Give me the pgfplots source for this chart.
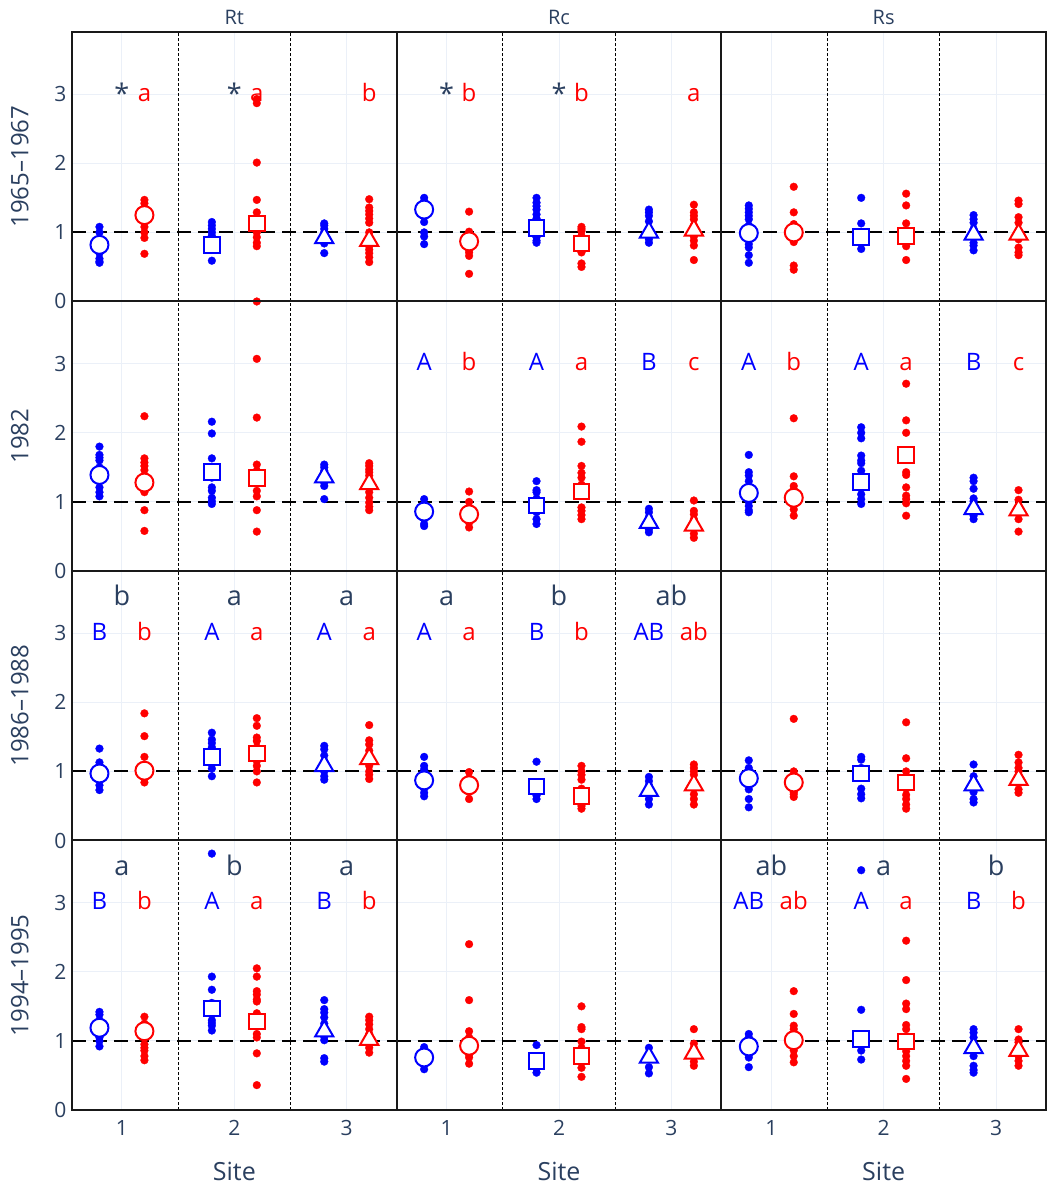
\documentclass[border=0pt]{standalone}
\usepackage{fontspec}
\setmainfont{Open Sans}
\usepackage{pgfplots}
\pgfplotsset{compat=1.18}
\definecolor{pblue}{RGB}{0,0,255}
\definecolor{pred}{RGB}{255,0,0}
\definecolor{tickc}{RGB}{42,63,95}
\definecolor{gridc}{RGB}{235,240,248}
\pgfplotsset{
 panel/.style={anchor=south west, scale only axis, width=324.67pt, height=269.5pt,
   xmin=0.5556, xmax=3.4444, ymin=0, ymax=3.9,
   xtick={1,2,3}, ytick={0,1,2,3},
   xticklabels={{},{},{}}, yticklabels={{},{},{},{}},
   major tick length=0pt,
   xmajorgrids=true, ymajorgrids=true,
   grid style={draw=gridc, line width=0.9pt},
   axis line style={draw=black, line width=1.6pt},
   clip=false,
   tick label style={font=\fontsize{21}{25}\selectfont, text=tickc},
   xticklabel style={yshift=-7pt},
   yticklabel style={xshift=-2pt},
   /pgf/number format/assume math mode=true,
 },
 ylab/.style={yticklabels={0,1,2,3}},
 xlab/.style={xticklabels={1,2,3}},
 bd/.style={only marks, mark=*, mark size=3.9pt, color=pblue, mark options={line width=0.3pt}},
 rd/.style={only marks, mark=*, mark size=3.9pt, color=pred, mark options={line width=0.3pt}},
 bc/.style={only marks, mark=*, mark size=9pt, mark options={draw=pblue, fill=white, line width=2pt}},
 bs/.style={only marks, mark=square*, mark size=7.8pt, mark options={draw=pblue, fill=white, line width=2pt}},
 bt/.style={only marks, mark=triangle*, mark size=10.5pt, mark options={draw=pblue, fill=white, line width=2pt}},
 rc/.style={only marks, mark=*, mark size=9pt, mark options={draw=pred, fill=white, line width=2pt}},
 rs/.style={only marks, mark=square*, mark size=7.8pt, mark options={draw=pred, fill=white, line width=2pt}},
 rt/.style={only marks, mark=triangle*, mark size=10.5pt, mark options={draw=pred, fill=white, line width=2pt}},
}
\tikzset{
 lb/.style={anchor=base, text=pblue, font=\fontsize{24}{28}\selectfont, inner sep=0pt},
 lr/.style={anchor=base, text=pred, font=\fontsize{24}{28}\selectfont, inner sep=0pt},
 ld/.style={anchor=base, text=tickc, font=\fontsize{27}{32}\selectfont, inner sep=0pt},
 rowlab/.style={rotate=90, anchor=base, text=tickc, font=\fontsize{24}{28}\selectfont, inner sep=0pt},
 coltit/.style={anchor=base, text=tickc, font=\fontsize{20}{24}\selectfont, inner sep=0pt},
 sitelab/.style={anchor=base, text=tickc, font=\fontsize{25}{30}\selectfont, inner sep=0pt},
}
\newcommand{\sepl}{%
 \addplot[black, line width=0.8pt, dash pattern=on 3pt off 2pt] coordinates {(1.5,0) (1.5,3.9)};
 \addplot[black, line width=1.1pt, dash pattern=on 3pt off 2pt] coordinates {(2.5,0) (2.5,3.9)};
}
\newcommand{\onel}{%
 \addplot[black, line width=1.8pt, dash pattern=on 14pt off 7pt] coordinates {(0.5556,1) (3.4444,1)};
 \draw[black!90, line width=2pt] (rel axis cs:0,0) rectangle (rel axis cs:1,1);
}
\newcommand{\means}[6]{%
 \addplot[bc] coordinates {(0.8,#1)};
 \addplot[bs] coordinates {(1.8,#2)};
 \addplot[bt] coordinates {(2.8,#3)};
 \addplot[rc] coordinates {(1.2,#4)};
 \addplot[rs] coordinates {(2.2,#5)};
 \addplot[rt] coordinates {(3.2,#6)};
}
\begin{document}
\begin{tikzpicture}
\path[use as bounding box] (-72pt,-80pt) rectangle (983pt,1110pt);
% ================= ROW 1 =================
\begin{axis}[panel, ylab, at={(0pt,808.5pt)}]
\sepl
\addplot[bd] coordinates {(0.8,1.08)(0.8,1.0)(0.8,0.9)(0.8,0.82)(0.8,0.7)(0.8,0.62)(0.8,0.58)(0.8,0.56)
 (1.8,1.15)(1.8,1.1)(1.8,1.05)(1.8,1.0)(1.8,0.95)(1.8,0.85)(1.8,0.75)(1.8,0.59)
 (2.8,1.13)(2.8,1.1)(2.8,1.05)(2.8,1.0)(2.8,0.95)(2.8,0.88)(2.8,0.84)(2.8,0.7)};
\addplot[rd] coordinates {(1.2,1.47)(1.2,1.42)(1.2,1.35)(1.2,1.25)(1.2,1.15)(1.2,1.08)(1.2,1.0)(1.2,0.92)(1.2,0.69)
 (2.2,2.93)(2.2,2.87)(2.2,2.01)(2.2,1.47)(2.2,1.29)(2.2,1.2)(2.2,1.0)(2.2,0.93)(2.2,0.85)(2.2,0.8)(2.2,0.0)
 (3.2,1.48)(3.2,1.36)(3.2,1.31)(3.2,1.26)(3.2,1.2)(3.2,1.14)(3.2,1.0)(3.2,0.9)(3.2,0.8)(3.2,0.75)(3.2,0.7)(3.2,0.64)(3.2,0.57)};
\means{0.82}{0.82}{0.92}{1.25}{1.13}{0.88}
\onel
\node[ld] at (axis cs:1,2.87) {*};
\node[lr] at (axis cs:1.2,2.9) {a};
\node[ld] at (axis cs:2,2.87) {*};
\node[lr] at (axis cs:2.2,2.9) {a};
\node[lr] at (axis cs:3.2,2.9) {b};
\node[coltit] at (axis description cs:0.5,1.026) {Rt};
\node[rowlab] at (axis description cs:-0.1346,0.5) {1965--1967};
\end{axis}
\begin{axis}[panel, at={(324.67pt,808.5pt)}]
\sepl
\addplot[bd] coordinates {(0.8,1.5)(0.8,1.45)(0.8,1.38)(0.8,1.33)(0.8,1.15)(0.8,1.0)(0.8,0.94)(0.8,0.83)
 (1.8,1.5)(1.8,1.43)(1.8,1.38)(1.8,1.33)(1.8,1.26)(1.8,1.2)(1.8,1.1)(1.8,1.0)(1.8,0.93)(1.8,0.88)(1.8,0.85)
 (2.8,1.33)(2.8,1.29)(2.8,1.24)(2.8,1.16)(2.8,1.05)(2.8,0.95)(2.8,0.9)(2.8,0.85)};
\addplot[rd] coordinates {(1.2,1.3)(1.2,1.01)(1.2,0.95)(1.2,0.87)(1.2,0.75)(1.2,0.71)(1.2,0.66)(1.2,0.4)
 (2.2,1.08)(2.2,1.05)(2.2,1.02)(2.2,0.95)(2.2,0.84)(2.2,0.75)(2.2,0.71)(2.2,0.55)(2.2,0.5)
 (3.2,1.4)(3.2,1.29)(3.2,1.24)(3.2,1.19)(3.2,1.1)(3.2,1.0)(3.2,0.94)(3.2,0.88)(3.2,0.81)(3.2,0.6)};
\means{1.33}{1.06}{1.0}{0.87}{0.84}{1.03}
\onel
\node[ld] at (axis cs:1,2.87) {*};
\node[lr] at (axis cs:1.2,2.9) {b};
\node[ld] at (axis cs:2,2.87) {*};
\node[lr] at (axis cs:2.2,2.9) {b};
\node[lr] at (axis cs:3.2,2.9) {a};
\node[coltit] at (axis description cs:0.5,1.026) {Rc};
\end{axis}
\begin{axis}[panel, at={(649.33pt,808.5pt)}]
\sepl
\addplot[bd] coordinates {(0.8,1.39)(0.8,1.34)(0.8,1.29)(0.8,1.24)(0.8,1.19)(0.8,1.1)(0.8,0.99)(0.8,0.9)(0.8,0.83)(0.8,0.78)(0.8,0.67)(0.8,0.56)
 (1.8,1.5)(1.8,1.13)(1.8,0.95)(1.8,0.85)(1.8,0.76)
 (2.8,1.25)(2.8,1.19)(2.8,1.14)(2.8,1.05)(2.8,0.95)(2.8,0.85)(2.8,0.81)(2.8,0.74)};
\addplot[rd] coordinates {(1.2,1.66)(1.2,1.29)(1.2,1.12)(1.2,1.0)(1.2,0.86)(1.2,0.52)(1.2,0.46)
 (2.2,1.56)(2.2,1.39)(2.2,1.13)(2.2,0.95)(2.2,0.8)(2.2,0.6)
 (3.2,1.46)(3.2,1.41)(3.2,1.22)(3.2,1.14)(3.2,1.0)(3.2,0.9)(3.2,0.78)(3.2,0.71)(3.2,0.67)};
\means{0.99}{0.93}{0.97}{1.0}{0.95}{0.97}
\onel
\node[coltit] at (axis description cs:0.5,1.026) {Rs};
\end{axis}
% ================= ROW 2 =================
\begin{axis}[panel, ylab, at={(0pt,539pt)}]
\sepl
\addplot[bd] coordinates {(0.8,1.8)(0.8,1.68)(0.8,1.64)(0.8,1.6)(0.8,1.5)(0.8,1.39)(0.8,1.3)(0.8,1.21)(0.8,1.14)(0.8,1.08)
 (1.8,2.16)(1.8,1.99)(1.8,1.63)(1.8,1.5)(1.8,1.35)(1.8,1.21)(1.8,1.16)(1.8,1.06)(1.8,1.01)(1.8,0.97)
 (2.8,1.54)(2.8,1.5)(2.8,1.45)(2.8,1.35)(2.8,1.28)(2.8,1.23)(2.8,1.04)};
\addplot[rd] coordinates {(1.2,2.24)(1.2,1.63)(1.2,1.57)(1.2,1.52)(1.2,1.46)(1.2,1.35)(1.2,1.28)(1.2,1.2)(1.2,1.14)(1.2,0.88)(1.2,0.58)
 (2.2,3.07)(2.2,2.22)(2.2,1.54)(2.2,1.45)(2.2,1.35)(2.2,1.16)(2.2,1.08)(2.2,0.88)(2.2,0.57)
 (3.2,1.56)(3.2,1.52)(3.2,1.47)(3.2,1.43)(3.2,1.38)(3.2,1.3)(3.2,1.2)(3.2,1.14)(3.2,1.06)(3.2,0.99)(3.2,0.93)(3.2,0.88)};
\means{1.39}{1.43}{1.36}{1.28}{1.35}{1.26}
\onel
\node[rowlab] at (axis description cs:-0.1346,0.5) {1982};
\end{axis}
\begin{axis}[panel, at={(324.67pt,539pt)}]
\sepl
\addplot[bd] coordinates {(0.8,1.04)(0.8,0.95)(0.8,0.86)(0.8,0.75)(0.8,0.68)(0.8,0.65)
 (1.8,1.3)(1.8,1.17)(1.8,1.14)(1.8,1.05)(1.8,0.95)(1.8,0.85)(1.8,0.75)(1.8,0.68)
 (2.8,0.9)(2.8,0.85)(2.8,0.78)(2.8,0.7)(2.8,0.6)(2.8,0.56)};
\addplot[rd] coordinates {(1.2,1.15)(1.2,1.0)(1.2,0.9)(1.2,0.82)(1.2,0.7)(1.2,0.63)
 (2.2,2.09)(2.2,1.87)(2.2,1.52)(2.2,1.42)(2.2,1.35)(2.2,1.25)(2.2,1.15)(2.2,0.92)(2.2,0.87)(2.2,0.81)(2.2,0.75)
 (3.2,1.02)(3.2,0.87)(3.2,0.82)(3.2,0.75)(3.2,0.65)(3.2,0.54)(3.2,0.48)};
\means{0.86}{0.95}{0.7}{0.82}{1.15}{0.66}
\onel
\node[lb] at (axis cs:0.8,2.9) {A};
\node[lr] at (axis cs:1.2,2.9) {b};
\node[lb] at (axis cs:1.8,2.9) {A};
\node[lr] at (axis cs:2.2,2.9) {a};
\node[lb] at (axis cs:2.8,2.9) {B};
\node[lr] at (axis cs:3.2,2.9) {c};
\end{axis}
\begin{axis}[panel, at={(649.33pt,539pt)}]
\sepl
\addplot[bd] coordinates {(0.8,1.68)(0.8,1.43)(0.8,1.38)(0.8,1.3)(0.8,1.2)(0.8,1.13)(0.8,1.0)(0.8,0.94)(0.8,0.88)(0.8,0.85)
 (1.8,2.08)(1.8,2.0)(1.8,1.92)(1.8,1.67)(1.8,1.6)(1.8,1.56)(1.8,1.45)(1.8,1.35)(1.8,1.29)(1.8,1.2)(1.8,1.11)(1.8,1.04)(1.8,0.97)
 (2.8,1.35)(2.8,1.3)(2.8,1.19)(2.8,1.05)(2.8,1.01)(2.8,0.95)(2.8,0.89)(2.8,0.8)(2.8,0.75)};
\addplot[rd] coordinates {(1.2,2.21)(1.2,1.37)(1.2,1.23)(1.2,1.18)(1.2,1.06)(1.2,0.95)(1.2,0.89)(1.2,0.8)
 (2.2,2.71)(2.2,2.18)(2.2,2.0)(2.2,1.43)(2.2,1.39)(2.2,1.21)(2.2,1.09)(2.2,1.04)(2.2,0.98)(2.2,0.8)
 (3.2,1.17)(3.2,1.03)(3.2,0.94)(3.2,0.85)(3.2,0.75)(3.2,0.57)};
\means{1.13}{1.29}{0.9}{1.06}{1.68}{0.88}
\onel
\node[lb] at (axis cs:0.8,2.9) {A};
\node[lr] at (axis cs:1.2,2.9) {b};
\node[lb] at (axis cs:1.8,2.9) {A};
\node[lr] at (axis cs:2.2,2.9) {a};
\node[lb] at (axis cs:2.8,2.9) {B};
\node[lr] at (axis cs:3.2,2.9) {c};
\end{axis}
% ================= ROW 3 =================
\begin{axis}[panel, ylab, at={(0pt,269.5pt)}]
\sepl
\addplot[bd] coordinates {(0.8,1.33)(0.8,1.13)(0.8,1.05)(0.8,0.97)(0.8,0.9)(0.8,0.8)(0.8,0.73)
 (1.8,1.56)(1.8,1.46)(1.8,1.41)(1.8,1.35)(1.8,1.21)(1.8,1.1)(1.8,1.04)(1.8,0.93)
 (2.8,1.37)(2.8,1.32)(2.8,1.23)(2.8,1.15)(2.8,1.0)(2.8,0.93)(2.8,0.88)};
\addplot[rd] coordinates {(1.2,1.84)(1.2,1.51)(1.2,1.21)(1.2,1.05)(1.2,1.01)(1.2,0.9)(1.2,0.84)
 (2.2,1.77)(2.2,1.66)(2.2,1.49)(2.2,1.44)(2.2,1.35)(2.2,1.26)(2.2,1.15)(2.2,1.08)(2.2,1.0)(2.2,0.84)
 (3.2,1.67)(3.2,1.45)(3.2,1.39)(3.2,1.3)(3.2,1.2)(3.2,1.08)(3.2,1.0)(3.2,0.95)(3.2,0.89)};
\means{0.97}{1.21}{1.08}{1.01}{1.26}{1.18}
\onel
\node[ld] at (axis cs:1,3.4) {b};
\node[lb] at (axis cs:0.8,2.9) {B};
\node[lr] at (axis cs:1.2,2.9) {b};
\node[ld] at (axis cs:2,3.4) {a};
\node[lb] at (axis cs:1.8,2.9) {A};
\node[lr] at (axis cs:2.2,2.9) {a};
\node[ld] at (axis cs:3,3.4) {a};
\node[lb] at (axis cs:2.8,2.9) {A};
\node[lr] at (axis cs:3.2,2.9) {a};
\node[rowlab] at (axis description cs:-0.1346,0.5) {1986--1988};
\end{axis}
\begin{axis}[panel, at={(324.67pt,269.5pt)}]
\sepl
\addplot[bd] coordinates {(0.8,1.21)(0.8,1.08)(0.8,1.03)(0.8,0.87)(0.8,0.75)(0.8,0.69)(0.8,0.64)
 (1.8,1.14)(1.8,0.79)(1.8,0.65)(1.8,0.6)
 (2.8,0.92)(2.8,0.86)(2.8,0.8)(2.8,0.74)(2.8,0.6)(2.8,0.52)};
\addplot[rd] coordinates {(1.2,0.99)(1.2,0.9)(1.2,0.8)(1.2,0.7)(1.2,0.6)
 (2.2,1.08)(2.2,1.0)(2.2,0.95)(2.2,0.88)(2.2,0.75)(2.2,0.64)(2.2,0.5)(2.2,0.46)
 (3.2,1.1)(3.2,1.05)(3.2,1.0)(3.2,0.95)(3.2,0.81)(3.2,0.67)(3.2,0.6)(3.2,0.52)};
\means{0.87}{0.78}{0.72}{0.8}{0.64}{0.8}
\onel
\node[ld] at (axis cs:1,3.4) {a};
\node[lb] at (axis cs:0.8,2.9) {A};
\node[lr] at (axis cs:1.2,2.9) {a};
\node[ld] at (axis cs:2,3.4) {b};
\node[lb] at (axis cs:1.8,2.9) {B};
\node[lr] at (axis cs:2.2,2.9) {b};
\node[ld] at (axis cs:3,3.4) {ab};
\node[lb] at (axis cs:2.8,2.9) {AB};
\node[lr] at (axis cs:3.2,2.9) {ab};
\end{axis}
\begin{axis}[panel, at={(649.33pt,269.5pt)}]
\sepl
\addplot[bd] coordinates {(0.8,1.16)(0.8,1.05)(0.8,0.9)(0.8,0.8)(0.8,0.74)(0.8,0.6)(0.8,0.48)
 (1.8,1.21)(1.8,1.17)(1.8,1.05)(1.8,0.97)(1.8,0.75)(1.8,0.67)(1.8,0.61)
 (2.8,1.1)(2.8,0.93)(2.8,0.85)(2.8,0.8)(2.8,0.7)(2.8,0.6)(2.8,0.55)};
\addplot[rd] coordinates {(1.2,1.76)(1.2,1.0)(1.2,0.84)(1.2,0.7)(1.2,0.67)(1.2,0.63)
 (2.2,1.71)(2.2,1.19)(2.2,1.0)(2.2,0.9)(2.2,0.84)(2.2,0.75)(2.2,0.66)(2.2,0.6)(2.2,0.52)(2.2,0.46)
 (3.2,1.24)(3.2,1.13)(3.2,1.05)(3.2,1.0)(3.2,0.93)(3.2,0.88)(3.2,0.74)(3.2,0.69)};
\means{0.9}{0.97}{0.8}{0.84}{0.84}{0.88}
\onel
\end{axis}
% ================= ROW 4 =================
\begin{axis}[panel, ylab, xlab, at={(0pt,0pt)}]
\sepl
\addplot[bd] coordinates {(0.8,1.42)(0.8,1.38)(0.8,1.3)(0.8,1.19)(0.8,1.05)(0.8,1.0)(0.8,0.92)
 (1.8,3.71)(1.8,1.93)(1.8,1.74)(1.8,1.55)(1.8,1.47)(1.8,1.3)(1.8,1.26)(1.8,1.22)(1.8,1.15)
 (2.8,1.59)(2.8,1.46)(2.8,1.41)(2.8,1.34)(2.8,1.25)(2.8,1.14)(2.8,1.06)(2.8,1.01)(2.8,0.75)(2.8,0.7)};
\addplot[rd] coordinates {(1.2,1.35)(1.2,1.25)(1.2,1.14)(1.2,0.95)(1.2,0.9)(1.2,0.86)(1.2,0.78)(1.2,0.72)
 (2.2,2.05)(2.2,1.93)(2.2,1.72)(2.2,1.67)(2.2,1.6)(2.2,1.57)(2.2,1.4)(2.2,1.28)(2.2,1.1)(2.2,1.05)(2.2,0.82)(2.2,0.36)
 (3.2,1.35)(3.2,1.3)(3.2,1.24)(3.2,1.17)(3.2,1.1)(3.2,1.02)(3.2,0.95)(3.2,0.9)(3.2,0.83)};
\means{1.19}{1.47}{1.14}{1.14}{1.28}{1.02}
\onel
\node[ld] at (axis cs:1,3.4) {a};
\node[lb] at (axis cs:0.8,2.9) {B};
\node[lr] at (axis cs:1.2,2.9) {b};
\node[ld] at (axis cs:2,3.4) {b};
\node[lb] at (axis cs:1.8,2.9) {A};
\node[lr] at (axis cs:2.2,2.9) {a};
\node[ld] at (axis cs:3,3.4) {a};
\node[lb] at (axis cs:2.8,2.9) {B};
\node[lr] at (axis cs:3.2,2.9) {b};
\node[rowlab] at (axis description cs:-0.1346,0.5) {1994--1995};
\node[sitelab] at (axis description cs:0.5,-0.2627) {Site};
\end{axis}
\begin{axis}[panel, xlab, at={(324.67pt,0pt)}]
\sepl
\addplot[bd] coordinates {(0.8,0.91)(0.8,0.8)(0.8,0.76)(0.8,0.65)(0.8,0.59)
 (1.8,0.94)(1.8,0.71)(1.8,0.6)(1.8,0.54)
 (2.8,0.9)(2.8,0.8)(2.8,0.76)(2.8,0.62)(2.8,0.53)};
\addplot[rd] coordinates {(1.2,2.4)(1.2,1.59)(1.2,1.14)(1.2,1.05)(1.2,0.93)(1.2,0.8)(1.2,0.76)(1.2,0.67)
 (2.2,1.5)(2.2,1.2)(2.2,1.17)(2.2,0.99)(2.2,0.9)(2.2,0.78)(2.2,0.61)(2.2,0.48)
 (3.2,1.17)(3.2,0.96)(3.2,0.9)(3.2,0.82)(3.2,0.7)(3.2,0.64)};
\means{0.76}{0.71}{0.76}{0.93}{0.78}{0.82}
\onel
\node[sitelab] at (axis description cs:0.5,-0.2627) {Site};
\end{axis}
\begin{axis}[panel, xlab, at={(649.33pt,0pt)}]
\sepl
\addplot[bd] coordinates {(0.8,1.1)(0.8,1.05)(0.8,0.92)(0.8,0.8)(0.8,0.76)(0.8,0.62)
 (1.8,3.47)(1.8,1.45)(1.8,1.03)(1.8,0.86)(1.8,0.73)
 (2.8,1.17)(2.8,1.12)(2.8,1.05)(2.8,0.95)(2.8,0.9)(2.8,0.78)(2.8,0.64)(2.8,0.58)(2.8,0.54)};
\addplot[rd] coordinates {(1.2,1.72)(1.2,1.39)(1.2,1.22)(1.2,1.17)(1.2,1.01)(1.2,0.9)(1.2,0.86)(1.2,0.78)(1.2,0.69)
 (2.2,2.45)(2.2,1.88)(2.2,1.54)(2.2,1.46)(2.2,1.23)(2.2,1.17)(2.2,1.05)(2.2,0.99)(2.2,0.85)(2.2,0.78)(2.2,0.71)(2.2,0.64)(2.2,0.45)
 (3.2,1.17)(3.2,1.02)(3.2,0.98)(3.2,0.86)(3.2,0.78)(3.2,0.71)(3.2,0.64)};
\means{0.92}{1.03}{0.9}{1.01}{0.99}{0.86}
\onel
\node[ld] at (axis cs:1,3.4) {ab};
\node[lb] at (axis cs:0.8,2.9) {AB};
\node[lr] at (axis cs:1.2,2.9) {ab};
\node[ld] at (axis cs:2,3.4) {a};
\node[lb] at (axis cs:1.8,2.9) {A};
\node[lr] at (axis cs:2.2,2.9) {a};
\node[ld] at (axis cs:3,3.4) {b};
\node[lb] at (axis cs:2.8,2.9) {B};
\node[lr] at (axis cs:3.2,2.9) {b};
\node[sitelab] at (axis description cs:0.5,-0.2627) {Site};
\end{axis}
\end{tikzpicture}
\end{document}
